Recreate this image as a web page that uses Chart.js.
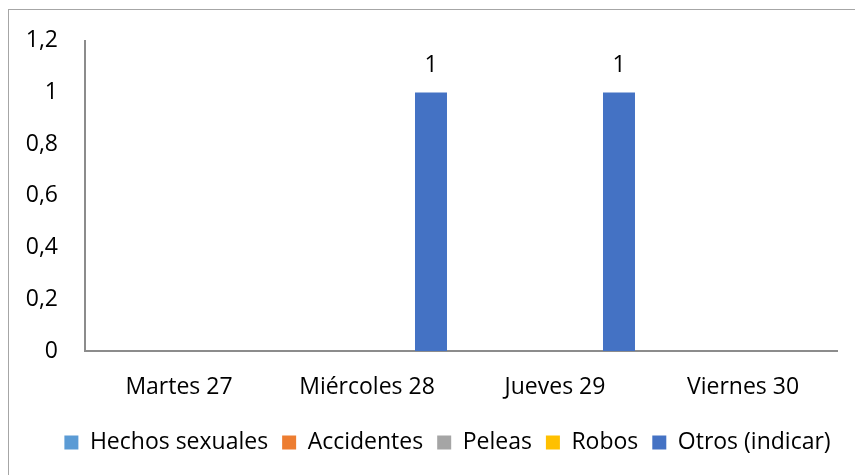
<!DOCTYPE html>
<html>
<head>
<meta charset="utf-8">
<script src="https://cdn.jsdelivr.net/npm/chart.js@4.4.1/dist/chart.umd.min.js"></script>
<style>
html,body{margin:0;padding:0;background:#fff;}
#wrap{position:relative;width:855px;height:475px;}
</style>
</head>
<body>
<div id="wrap"><canvas id="c" width="855" height="475"></canvas></div>
<script>
const categories = ["Martes 27", "Miércoles 28", "Jueves 29", "Viernes 30"];
const seriesNames = ["Hechos sexuales", "Accidentes", "Peleas", "Robos", "Otros (indicar)"];
const hechosSexuales = [0, 0, 0, 0];
const accidentes = [0, 0, 0, 0];
const peleas = [0, 0, 0, 0];
const robos = [0, 0, 0, 0];
const otros = [0, 1, 1, 0];
const yTickLabels = ["0", "0,2", "0,4", "0,6", "0,8", "1", "1,2"];
const seriesColors = ["#5B9BD5", "#ED7D31", "#A5A5A5", "#FFC000", "#4472C4"];

const FONT = "'Open Sans', 'Noto Sans', sans-serif";
const FS = 23;
Chart.defaults.font.family = FONT;
Chart.defaults.color = "#000";

const borderPlugin = {
  id: "outerBorder",
  beforeDraw(chart) {
    const ctx = chart.ctx;
    ctx.save();
    ctx.fillStyle = "#fff";
    ctx.fillRect(0, 0, chart.width, chart.height);
    ctx.strokeStyle = "#a6a6a6";
    ctx.lineWidth = 1;
    ctx.strokeRect(8.5, 9.5, 900, 500);
    ctx.restore();
  }
};

const legendShift = {
  id: "legendShift",
  afterLayout(chart) {
    const lg = chart.legend;
    if (lg) { lg.left += 19; lg.right += 19; }
  }
};

const valueLabels = {
  id: "valueLabels",
  afterDatasetsDraw(chart) {
    const ctx = chart.ctx;
    ctx.save();
    ctx.font = FS + "px " + FONT;
    ctx.fillStyle = "#000";
    ctx.textAlign = "center";
    ctx.textBaseline = "middle";
    chart.data.datasets.forEach((ds, di) => {
      const meta = chart.getDatasetMeta(di);
      meta.data.forEach((el, i) => {
        const v = ds.data[i];
        if (v > 0) ctx.fillText(String(v), el.x, el.y - 27);
      });
    });
    ctx.restore();
  }
};

const dataArrays = [hechosSexuales, accidentes, peleas, robos, otros];

new Chart(document.getElementById("c"), {
  type: "bar",
  data: {
    labels: categories,
    datasets: seriesNames.map((n, i) => ({
      label: n,
      data: dataArrays[i],
      backgroundColor: seriesColors[i],
      borderWidth: 0,
      categoryPercentage: 0.851,
      barPercentage: 1.0
    }))
  },
  options: {
    responsive: false,
    animation: false,
    devicePixelRatio: 1,
    layout: { padding: { left: 20, right: 18, top: 39, bottom: 11 } },
    plugins: {
      legend: {
        position: "bottom",
        labels: {
          boxWidth: 14,
          boxHeight: 14,
          padding: 14,
          color: "#000",
          font: { size: FS, family: FONT }
        }
      },
      tooltip: { enabled: false }
    },
    scales: {
      x: {
        grid: { display: false, drawTicks: false },
        border: { display: true, color: "#8c8c8c", width: 2 },
        ticks: { padding: 23, color: "#000", font: { size: FS, family: FONT }, maxRotation: 0 },
        afterFit(s) { s.height = 66; }
      },
      y: {
        min: 0,
        max: 1.2,
        grid: { display: false, drawTicks: false },
        border: { display: true, color: "#8c8c8c", width: 2 },
        ticks: {
          stepSize: 0.2,
          padding: 27,
          color: "#000",
          font: { size: FS, family: FONT },
          callback: (v, i) => yTickLabels[i]
        },
        afterFit(s) { s.width = 65; }
      }
    }
  },
  plugins: [borderPlugin, legendShift, valueLabels]
});
</script>
</body>
</html>
